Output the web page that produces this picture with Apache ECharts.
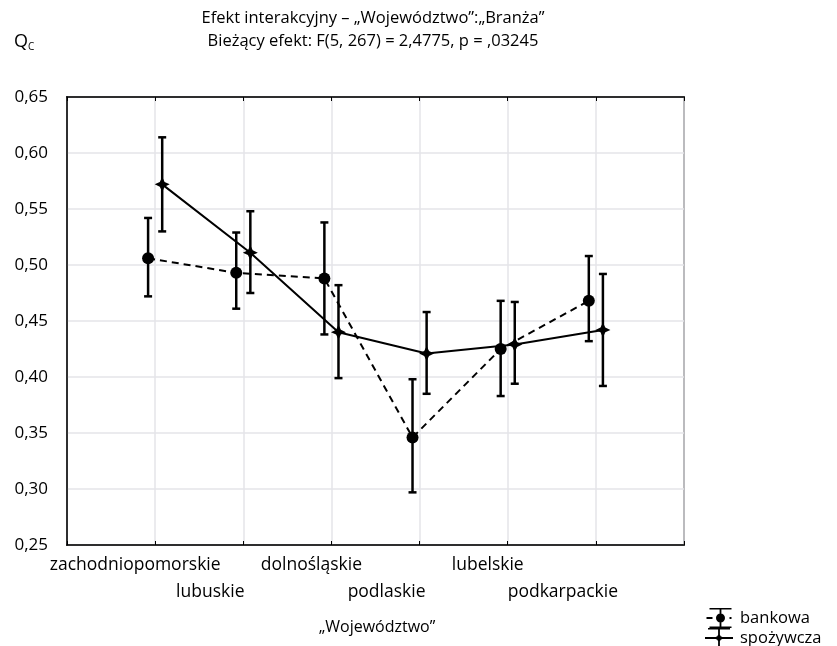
<!DOCTYPE html>
<html>
<head>
<meta charset="utf-8">
<script src="https://cdn.jsdelivr.net/npm/echarts@6/dist/echarts.min.js"></script>
</head>
<body style="margin:0">
<div id="main" style="width:837px;height:646px"></div>
<script>
// categories (provinces)
var regions = ['zachodniopomorskie', 'lubuskie', 'dolnośląskie', 'podlaskie', 'lubelskie', 'podkarpackie'];

// bankowa: mean, lower, upper
var bankMean = [0.506, 0.493, 0.488, 0.346, 0.425, 0.468];
var bankLow  = [0.472, 0.461, 0.438, 0.297, 0.383, 0.432];
var bankHigh = [0.542, 0.529, 0.538, 0.398, 0.468, 0.508];

// spożywcza: mean, lower, upper
var foodMean = [0.572, 0.511, 0.440, 0.421, 0.429, 0.442];
var foodLow  = [0.530, 0.475, 0.399, 0.385, 0.394, 0.392];
var foodHigh = [0.614, 0.548, 0.482, 0.458, 0.467, 0.492];

var yTicks = [0.25, 0.30, 0.35, 0.40, 0.45, 0.50, 0.55, 0.60, 0.65];

var shift = 0.08; // side-by-side offset of the two series
var font = 'Open Sans';
var starPath = 'path://M0,-10 L3.2,-3.2 L10,0 L3.2,3.2 L0,10 L-3.2,3.2 L-10,0 L-3.2,-3.2 Z';

// legend glyphs: little error bar + line + marker (28x20 box)
var caps = 'M3,0 H25 V1.6 H3 Z M3,18.4 H25 V20 H3 Z M13.1,0 H14.9 V20 H13.1 Z ';
var bankIcon = 'path://' + caps + 'M0,9.1 H6 V10.9 H0 Z M23,9.1 H25 V10.9 H23 Z M9.5,10 A4.5,4.5 0 1,1 18.5,10 A4.5,4.5 0 1,1 9.5,10 Z';
var foodIcon = 'path://' + caps + 'M0,9 H28 V11 H0 Z M14,5 L15.7,8.3 L19.5,10 L15.7,11.7 L14,15 L12.3,11.7 L8.5,10 L12.3,8.3 Z';

function pts(vals, off) {
  return vals.map(function (v, i) { return [i + 1 + off, v]; });
}
function bars(lo, hi, off) {
  return lo.map(function (v, i) { return [i + 1 + off, v, hi[i]]; });
}

function errRender(params, api) {
  var x = api.value(0);
  var a = api.coord([x, api.value(1)]);
  var b = api.coord([x, api.value(2)]);
  var w = 4;
  var st = { stroke: '#000', lineWidth: 2.5 };
  return {
    type: 'group',
    children: [
      { type: 'line', shape: { x1: a[0], y1: a[1], x2: b[0], y2: b[1] }, style: st },
      { type: 'line', shape: { x1: a[0] - w, y1: a[1], x2: a[0] + w, y2: a[1] }, style: st },
      { type: 'line', shape: { x1: b[0] - w, y1: b[1], x2: b[0] + w, y2: b[1] }, style: st }
    ]
  };
}

var chart = echarts.init(document.getElementById('main'));

var labelRow = function (row) {
  return function (val) {
    var i = Math.round(val) - 1;
    if (i < 0 || i >= regions.length || i % 2 !== row) return '';
    return regions[i];
  };
};

var option = {
  animation: false,
  title: [
    {
      text: 'Efekt interakcyjny – „Województwo”:„Branża”\nBieżący efekt: F(5, 267) = 2,4775, p = ,03245',
      left: 368, top: 2, textAlign: 'center',
      textStyle: { fontFamily: font, fontSize: 16.5, fontWeight: 'normal', color: '#000', lineHeight: 23, align: 'center' }
    },
    {
      text: '{q|Q}{c|C}',
      left: 9, top: 26,
      textStyle: {
        rich: {
          q: { fontFamily: font, fontSize: 18, fontWeight: 'normal', color: '#000' },
          c: { fontFamily: font, fontSize: 10, fontWeight: 'normal', color: '#000', verticalAlign: 'bottom', padding: [11, 0, 0, 0] }
        }
      }
    },
    {
      text: '„Województwo”',
      left: 372, top: 614, textAlign: 'center',
      textStyle: { fontFamily: font, fontSize: 16, fontWeight: 'normal', color: '#000' }
    }
  ],
  legend: {
    orient: 'vertical',
    left: 700, top: 603, height: 43,
    itemWidth: 28, itemHeight: 20, itemGap: 0,
    itemStyle: { borderWidth: 0 },
    textStyle: { fontFamily: font, fontSize: 16.5, lineHeight: 18, color: '#000', padding: [0, 0, 0, 2] },
    data: [{ name: 'bankowa', icon: bankIcon }, { name: 'spożywcza', icon: foodIcon }]
  },
  grid: { left: 67, right: 153, top: 97, bottom: 101, show: true, borderColor: '#000', borderWidth: 1.5, backgroundColor: 'transparent' },
  xAxis: [
    {
      type: 'value', min: 0, max: 7, interval: 1, position: 'bottom',
      axisLine: { lineStyle: { color: '#000', width: 1.5 } },
      axisTick: { inside: true, length: 4, lineStyle: { color: '#000' } },
      splitLine: { lineStyle: { color: '#e4e4e8', width: 1.5 } },
      axisLabel: {
        formatter: labelRow(0), margin: 11,
        fontFamily: font, fontSize: 17.5, color: '#000',
        padding: [0, 40, 0, 0]
      }
    },
    {
      type: 'value', min: 0, max: 7, interval: 1, position: 'bottom',
      axisLine: { show: false }, axisTick: { show: false }, splitLine: { show: false },
      axisLabel: {
        formatter: labelRow(1), margin: 38,
        fontFamily: font, fontSize: 17.5, color: '#000',
        padding: [0, 66, 0, 0]
      }
    },
    {
      type: 'value', min: 0, max: 7, interval: 1, position: 'top',
      axisLine: { lineStyle: { color: '#000', width: 1.5 } },
      axisTick: { inside: true, length: 4, lineStyle: { color: '#000' } },
      splitLine: { show: false }, axisLabel: { show: false }
    }
  ],
  yAxis: {
    type: 'value', min: yTicks[0], max: yTicks[yTicks.length - 1], interval: 0.05,
    axisLine: { show: true, lineStyle: { color: '#000', width: 1.5 } },
    axisTick: { show: false },
    splitLine: { lineStyle: { color: '#e4e4e8', width: 1.5 } },
    axisLabel: {
      margin: 19, fontFamily: font, fontSize: 17, color: '#000',
      formatter: function (v) { return v.toFixed(2).replace('.', ','); }
    }
  },
  series: [
    {
      name: 'bankowa', type: 'line', data: pts(bankMean, -shift),
      symbol: 'circle', symbolSize: 12,
      lineStyle: { color: '#000', width: 2, type: [7, 5] },
      itemStyle: { color: '#000' }, z: 3
    },
    {
      name: 'spożywcza', type: 'line', data: pts(foodMean, shift),
      symbol: starPath, symbolSize: 15,
      lineStyle: { color: '#000', width: 2 },
      itemStyle: { color: '#000' }, z: 3
    },
    { name: 'bankowa', type: 'custom', renderItem: errRender, data: bars(bankLow, bankHigh, -shift), z: 2 },
    { name: 'spożywcza', type: 'custom', renderItem: errRender, data: bars(foodLow, foodHigh, shift), z: 2 }
  ]
};
chart.setOption(option);
</script>
</body>
</html>
